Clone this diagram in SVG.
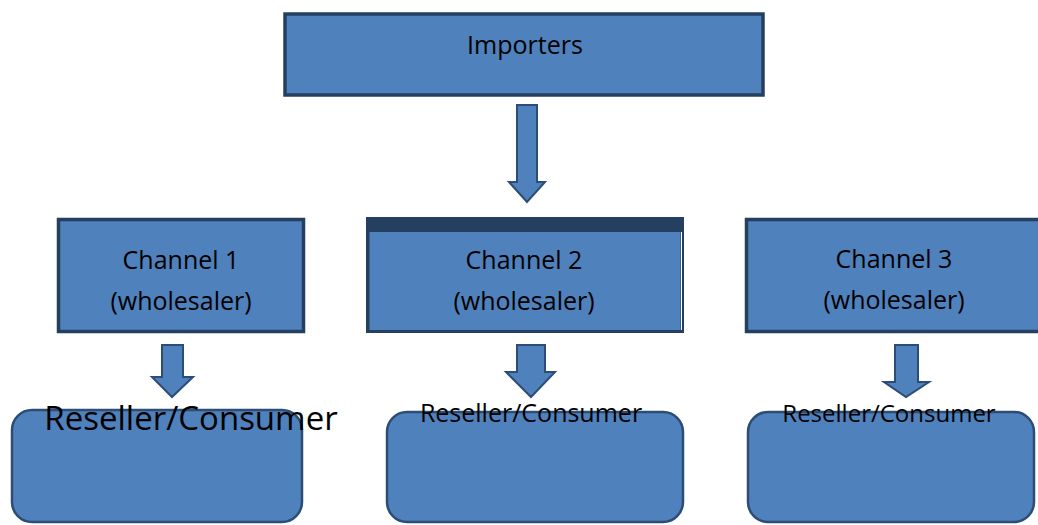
<svg xmlns="http://www.w3.org/2000/svg" width="1038" height="525" viewBox="0 0 1038 525">
<style>
.box{fill:#4f81bd;stroke:#243f60;stroke-width:3.5}
.rbox{fill:#4f81bd;stroke:#2c4d75;stroke-width:2.5}
.arr{fill:#4f81bd;stroke:#2c4d75;stroke-width:2;stroke-linejoin:miter}
.t{font-family:"Open Sans","Liberation Sans",sans-serif;fill:#000;text-anchor:middle}
</style>
<rect width="1038" height="525" fill="#fff"/>
<g id="connectors">
<polygon class="arr" points="517,105 537,105 537,182 545,182 527,202 509,182 517,182"/>
<polygon class="arr" points="162,345 183,345 183,377 193,377 172,397 152,377 162,377"/>
<polygon class="arr" points="517,345 545,345 545,372 555,372 531,397 506,372 517,372"/>
<polygon class="arr" points="895,345 918,345 918,382 929,382 906,397 884,382 895,382"/>
</g>
<g id="importers">
<rect class="box" x="285" y="14" width="478" height="81"/>
<text class="t" x="525" y="54" font-size="25">Importers</text>
</g>
<g id="channel1">
<rect class="box" x="58.5" y="219.5" width="245" height="112"/>
<text class="t" x="181" y="269" font-size="25">Channel 1</text>
<text class="t" x="181" y="310" font-size="25">(wholesaler)</text>
</g>
<g id="channel2">
<rect x="366" y="217" width="318" height="116" fill="#243f60"/>
<rect x="369.5" y="232" width="311" height="98" fill="#4f81bd"/>
<line x1="681.5" y1="232" x2="681.5" y2="330" stroke="#fff" stroke-width="1"/>
<text class="t" x="524" y="269" font-size="25">Channel 2</text>
<text class="t" x="524" y="310" font-size="25">(wholesaler)</text>
</g>
<g id="channel3">
<rect class="box" x="746.5" y="219.5" width="296" height="112"/>
<text class="t" x="894" y="268" font-size="25">Channel 3</text>
<text class="t" x="894" y="309" font-size="25">(wholesaler)</text>
</g>
<g id="consumer1">
<rect class="rbox" x="12" y="410" width="290" height="112" rx="20"/>
<text class="t" x="191" y="430" font-size="33">Reseller/Consumer</text>
</g>
<g id="consumer2">
<rect class="rbox" x="387" y="412" width="296" height="110" rx="20"/>
<text class="t" x="531" y="422" font-size="25">Reseller/Consumer</text>
</g>
<g id="consumer3">
<rect class="rbox" x="748" y="412" width="286" height="110" rx="20"/>
<text class="t" x="889" y="422" font-size="24">Reseller/Consumer</text>
</g>
</svg>
